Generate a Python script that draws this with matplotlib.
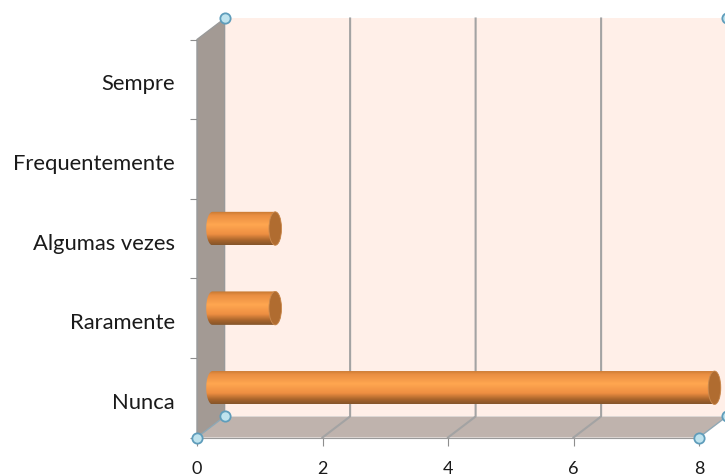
import matplotlib
matplotlib.use("Agg")
import matplotlib.pyplot as plt
from matplotlib.colors import LinearSegmentedColormap
from matplotlib.patches import Ellipse, Polygon, PathPatch
from matplotlib.path import Path
from matplotlib.transforms import ScaledTranslation
import numpy as np

categories = ["Nunca", "Raramente", "Algumas vezes", "Frequentemente", "Sempre"]
values = [8, 1, 1, 0, 0]
x_ticks = [0, 2, 4, 6, 8]

# 3d look: how far the back wall sits from the front plane, in data units
DX = 0.44
DY = 0.264
BAR_LEFT = 0.247
BAR_SHIFT = 0.125
BAR_H = 0.42
CAP_W = 0.2

plt.rcParams['font.family'] = ['Lato', 'DejaVu Sans']

fig = plt.figure(figsize=(7.25, 4.77), dpi=100)
ax = fig.add_axes([197 / 725, 38.5 / 477, 502 / 725, 398 / 477])

# walls
ax.add_patch(Polygon([(DX, DY), (8 + DX, DY), (8 + DX, 5 + DY), (DX, 5 + DY)],
                     fc='#FFEFE8', ec='none', clip_on=False, zorder=0))
ax.add_patch(Polygon([(0, 0), (DX, DY), (DX, 5 + DY), (0, 5)],
                     fc='#A39A94', ec='#9A9A9A', lw=1, clip_on=False, zorder=1))
ax.add_patch(Polygon([(0, 0), (8, 0), (8 + DX, DY), (DX, DY)],
                     fc='#BFB3AD', ec='none', clip_on=False, zorder=1))

# gridlines run along the floor and up the back wall
for t in x_ticks[1:-1]:
    ax.plot([t, t + DX, t + DX], [0, DY, 5 + DY], color='#A3A3A3', lw=1.5,
            clip_on=False, zorder=2)

# bars
body = LinearSegmentedColormap.from_list('body', [
    (0.0, '#C4772F'), (0.12, '#E98E42'), (0.4, '#FFA650'), (0.68, '#EE8F42'),
    (0.86, '#A9652C'), (1.0, '#85552A')])
y_pos = np.arange(len(categories)) + 0.5 + BAR_SHIFT
bars = ax.barh(y_pos, values, height=BAR_H, left=BAR_LEFT, color='#E98E42', zorder=3)
grad = np.linspace(0, 1, 128).reshape(-1, 1)
for bar, val in zip(bars, values):
    bar.set_visible(False)
    if val == 0:
        continue
    x0, y0, w, h = bar.get_x(), bar.get_y(), bar.get_width(), bar.get_height()
    yc = y0 + h / 2
    t = np.linspace(np.pi / 2, 3 * np.pi / 2, 30)
    xs = np.r_[x0 + CAP_W / 2 * np.cos(t), x0 + w + CAP_W / 2 * np.cos(t + np.pi)]
    ys = np.r_[yc + h / 2 * np.sin(t), yc + h / 2 * np.sin(t + np.pi)]
    outline = PathPatch(Path(np.c_[xs, ys]), transform=ax.transData, fc='none', ec='none',
                        clip_on=False)
    ax.add_patch(outline)
    im = ax.imshow(grad, cmap=body, aspect='auto', extent=(x0 - CAP_W, x0 + w + CAP_W, y0, y0 + h),
                   origin='upper', zorder=3)
    im.set_clip_box(fig.bbox)
    im.set_clip_path(outline)
    ax.add_patch(Ellipse((x0 + w, yc), CAP_W, h, fc='#B06C30', ec='#C98A50', lw=0.6,
                         clip_on=False, zorder=4))
ax.set_xlim(0, 8)
ax.set_ylim(0, 5)
ax.set_aspect('auto')

# selection handles at the plot corners
hx = [0, DX, 8, 8 + DX, DX, 8 + DX]
hy = [0, DY, 0, DY, 5 + DY, 5 + DY]
ax.plot([0, DX], [0, DY], color='#8FA8B5', lw=1, clip_on=False, zorder=4)
ax.plot([8, 8 + DX], [0, DY], color='#8FA8B5', lw=1, clip_on=False, zorder=4)
ax.scatter(hx, hy, s=55, c='#BFE3EE', edgecolors='#5F9DBB', linewidths=1.3,
           clip_on=False, zorder=6)

# axes
for name, spine in ax.spines.items():
    spine.set_visible(name in ('left', 'bottom'))
    spine.set_color('#9A9A9A')
    spine.set_zorder(2)
ax.set_xticks(x_ticks)
ax.tick_params(axis='x', length=6, color='#8E8E8E', labelsize=13, pad=10, labelcolor='#1a1a1a')
ax.set_yticks(np.arange(6))
ax.set_yticklabels([])
ax.tick_params(axis='y', which='major', length=5, color='#8E8E8E')
ax.set_yticks(np.arange(5) + 0.5, minor=True)
ax.set_yticklabels(categories, minor=True)
ax.tick_params(axis='y', which='minor', length=0, labelsize=15.8, pad=16, labelcolor='#1a1a1a')
down = ScaledTranslation(0, -3 / 72, fig.dpi_scale_trans)
for lab in ax.get_yticklabels(minor=True):
    lab.set_verticalalignment('center')
    lab.set_transform(lab.get_transform() + down)

fig.savefig("out.png", dpi=100)
